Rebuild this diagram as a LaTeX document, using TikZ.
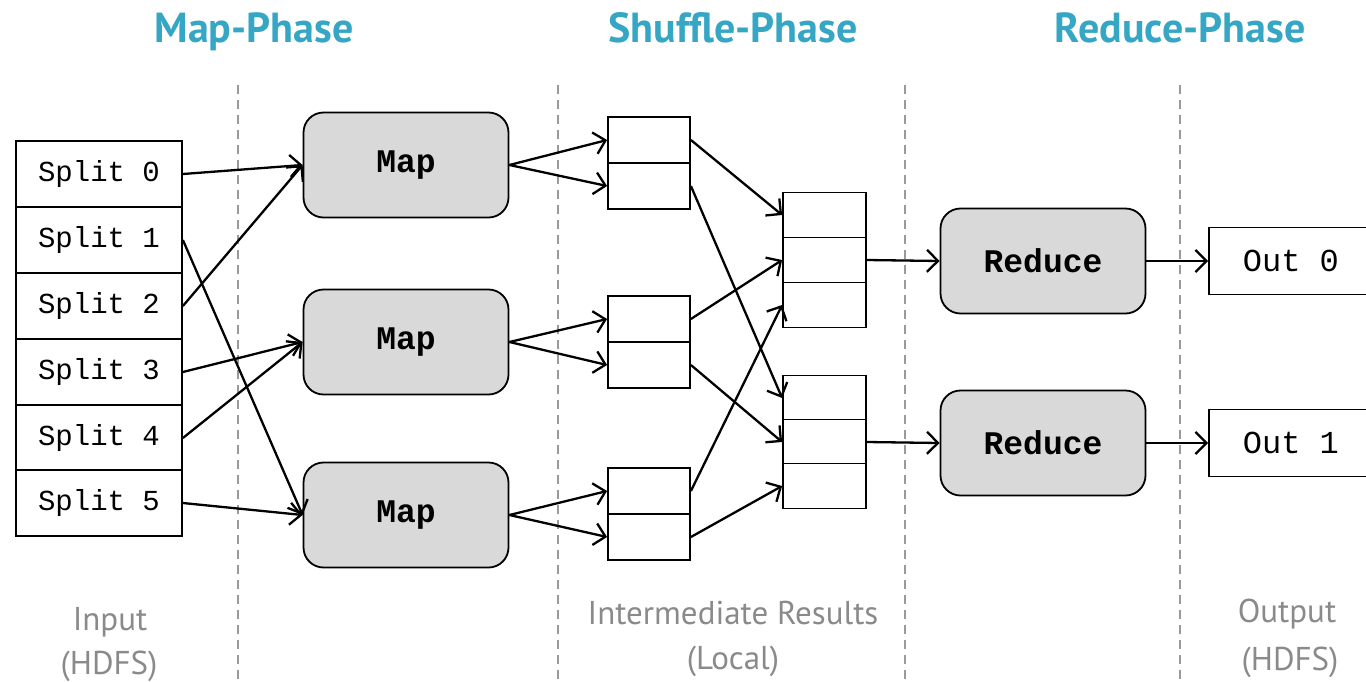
\documentclass[tikz,border=0pt]{standalone}
\usepackage{fontspec}
\setmainfont{PT Sans}
\newfontfamily\monof{Liberation Mono}
\usetikzlibrary{arrows.meta}
\definecolor{headc}{HTML}{35A6C4}
\definecolor{labc}{HTML}{8A8A8A}
\definecolor{boxfill}{HTML}{D9D9D9}
\definecolor{dashc}{HTML}{9A9A9A}
\tikzset{
  splitbox/.style={draw=black, line width=1.8pt, fill=white, minimum width=166pt, minimum height=66pt, inner sep=0pt, font=\monof\fontsize{29}{32}\selectfont},
  outbox/.style={draw=black, line width=1.8pt, fill=white, minimum width=164pt, minimum height=67pt, inner sep=0pt, anchor=west, font=\monof\fontsize{32}{34}\selectfont},
  procbox/.style={draw=black, line width=1.8pt, fill=boxfill, rounded corners=20pt, minimum width=205pt, minimum height=105pt, inner sep=0pt, font=\monof\bfseries\fontsize{33}{36}\selectfont},
  cellbox/.style={draw=black, line width=1.8pt, fill=white, minimum width=82pt, minimum height=46pt, inner sep=0pt},
  cellboxb/.style={draw=black, line width=1.8pt, fill=white, minimum width=83pt, minimum height=45pt, inner sep=0pt},
  conn/.style={line width=2.3pt, -{Straight Barb[length=11pt,width=22pt,line width=2.3pt]}},
  phase/.style={text=headc, anchor=base, inner sep=0pt, font=\bfseries\fontsize{42}{44}\selectfont},
  lab/.style={text=labc, anchor=base, inner sep=0pt, font=\fontsize{33}{36}\selectfont},
  divider/.style={draw=dashc, line width=1.6pt, dash pattern=on 9pt off 6pt}
}
\begin{document}
\begin{tikzpicture}[x=1pt,y=-1pt]
\useasboundingbox (0,0) rectangle (1366,681);
\clip (0,0) rectangle (1366,681);
% dividers
\draw[divider] (238,85) -- (238,681);
\draw[divider] (558,85) -- (558,681);
\draw[divider] (905,85) -- (905,681);
\draw[divider] (1180,85) -- (1180,681);
% headings
\node[phase] (h1) at (254,42) {Map-Phase};
\node[phase] (h2) at (733,42) {Shuffle-Phase};
\node[phase] (h3) at (1180,42) {Reduce-Phase};
% bottom labels
\node[lab] (l1a) at (110,630) {Input};
\node[lab] (l1b) at (109,674) {(HDFS)};
\node[lab] (l2a) at (733,624) {Intermediate Results};
\node[lab] (l2b) at (733,669) {(Local)};
\node[lab] (l3a) at (1287,622) {Output};
\node[lab] (l3b) at (1290,670) {(HDFS)};
% splits
\node[splitbox] (s0) at (99,174) {Split 0};
\node[splitbox] (s1) at (99,240) {Split 1};
\node[splitbox] (s2) at (99,306) {Split 2};
\node[splitbox] (s3) at (99,372) {Split 3};
\node[splitbox] (s4) at (99,438) {Split 4};
\node[splitbox] (s5) at (99,503) {Split 5};
% maps
\node[procbox] (m1) at (406,165) {Map};
\node[procbox] (m2) at (406,342) {Map};
\node[procbox] (m3) at (406,515) {Map};
% intermediate left
\node[cellbox] (i1a) at (649,140) {};
\node[cellbox] (i1b) at (649,186) {};
\node[cellbox] (i2a) at (649,319) {};
\node[cellbox] (i2b) at (649,365) {};
\node[cellbox] (i3a) at (649,491) {};
\node[cellbox] (i3b) at (649,537) {};
% intermediate right
\node[cellboxb] (a1) at (824.5,215) {};
\node[cellboxb] (a2) at (824.5,260) {};
\node[cellboxb] (a3) at (824.5,305) {};
\node[cellboxb] (b1) at (824.5,398) {};
\node[cellboxb] (b2) at (824.5,442) {};
\node[cellboxb] (b3) at (824.5,486) {};
% reduces
\node[procbox] (r1) at (1043,261) {Reduce};
\node[procbox] (r2) at (1043,443) {Reduce};
% outputs
\node[outbox] (o0) at (1208,261) {Out 0};
\node[outbox] (o1) at (1208,443) {Out 1};
% connectors splits -> maps
\draw[conn] (s0.east) -- (m1.west);
\draw[conn] (s2.east) -- (m1.west);
\draw[conn] (s1.east) -- (m3.west);
\draw[conn] (s3.east) -- (m2.west);
\draw[conn] (s4.east) -- (m2.west);
\draw[conn] (s5.east) -- (m3.west);
% maps -> cells
\draw[conn] (m1.east) -- (i1a.west);
\draw[conn] (m1.east) -- (i1b.west);
\draw[conn] (m2.east) -- (i2a.west);
\draw[conn] (m2.east) -- (i2b.west);
\draw[conn] (m3.east) -- (i3a.west);
\draw[conn] (m3.east) -- (i3b.west);
% shuffle
\draw[conn] (i1a.east) -- (a1.west);
\draw[conn] (i1b.east) -- (b1.west);
\draw[conn] (i2a.east) -- (a2.west);
\draw[conn] (i2b.east) -- (b2.west);
\draw[conn] (i3a.east) -- (a3.west);
\draw[conn] (i3b.east) -- (b3.west);
% to reduce
\draw[conn] (a2.east) -- (r1.west);
\draw[conn] (b2.east) -- (r2.west);
% to output
\draw[conn] (r1.east) -- (o0.west);
\draw[conn] (r2.east) -- (o1.west);
\end{tikzpicture}
\end{document}
